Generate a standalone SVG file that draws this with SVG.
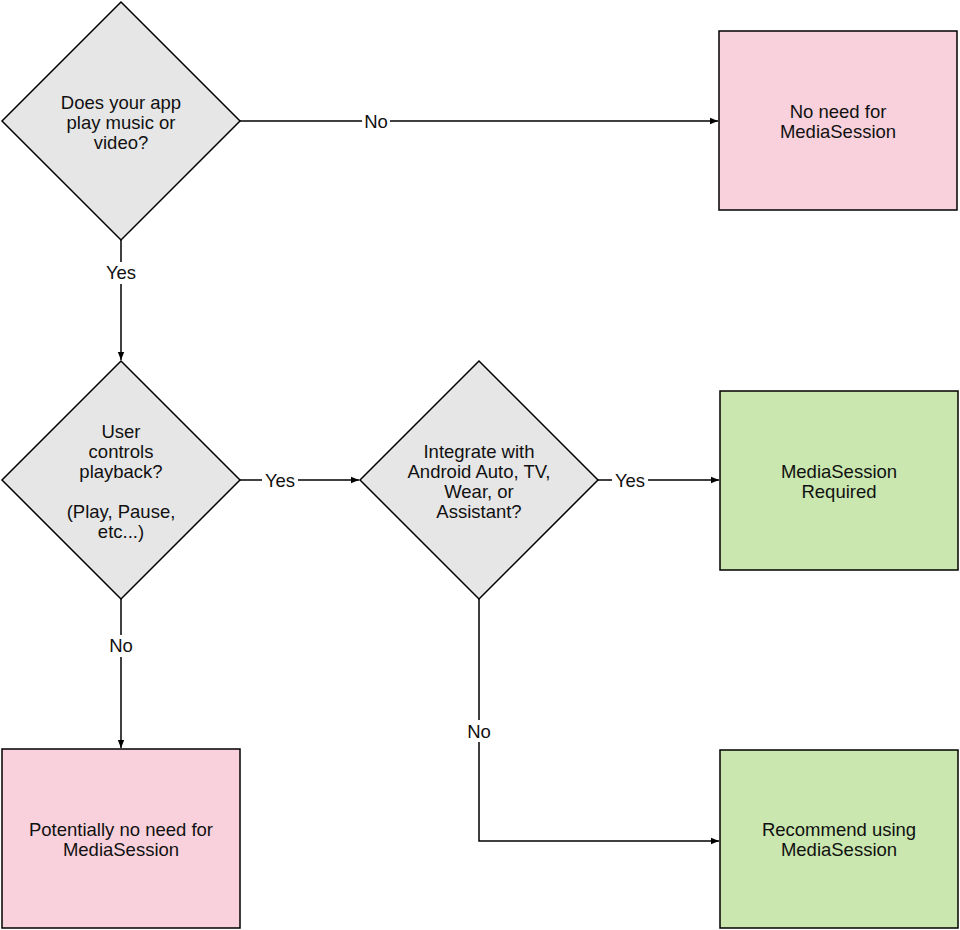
<svg xmlns="http://www.w3.org/2000/svg" width="960" height="930" viewBox="0 0 960 930">
<style>
.d{fill:#e6e6e6;stroke:#000;stroke-width:1.5}
.p{fill:#f8d1dc;stroke:#000;stroke-width:1.5}
.g{fill:#c9e7ae;stroke:#000;stroke-width:1.5}
text{font-family:"Liberation Sans",Arial,sans-serif;font-size:18.5px;fill:#111;text-anchor:middle}
.c{fill:none;stroke:#000;stroke-width:1.5}
.lb{fill:#fff;stroke:none}
</style>
<defs><marker id="a" viewBox="0 0 10 10" refX="10" refY="5" markerWidth="8" markerHeight="8" markerUnits="userSpaceOnUse" orient="auto"><path d="M0,1 L10,5 L0,9 z" fill="#000"/></marker></defs>
<rect width="960" height="930" fill="#fff"/>
<g id="connectors">
<path class="c" d="M240,121 H718" marker-end="url(#a)"/>
<path class="c" d="M121,240 V360" marker-end="url(#a)"/>
<path class="c" d="M240,480 H359" marker-end="url(#a)"/>
<path class="c" d="M598,480 H719" marker-end="url(#a)"/>
<path class="c" d="M121,599 V748" marker-end="url(#a)"/>
<path class="c" d="M479,599 V841 H719" marker-end="url(#a)"/>
<rect class="lb" x="362" y="110" width="28" height="22"/><text x="376" y="128">No</text>
<rect class="lb" x="103" y="262" width="36" height="22"/><text x="121" y="279">Yes</text>
<rect class="lb" x="262" y="470" width="36" height="22"/><text x="280" y="487">Yes</text>
<rect class="lb" x="612" y="470" width="36" height="22"/><text x="630" y="487">Yes</text>
<rect class="lb" x="107" y="635" width="28" height="22"/><text x="121" y="652">No</text>
<rect class="lb" x="464" y="720" width="30" height="22"/><text x="479" y="738">No</text>
</g>
<g id="q1"><path class="d" d="M121,2 L240,121 L121,240 L2,121 z"/><text x="121" y="109">Does your app</text><text x="121" y="129">play music or</text><text x="121" y="149">video?</text></g>
<g id="q2"><path class="d" d="M121,361 L240,480 L121,599 L2,480 z"/><text x="121" y="438">User</text><text x="121" y="458">controls</text><text x="121" y="478">playback?</text><text x="121" y="518">(Play, Pause,</text><text x="121" y="538">etc...)</text></g>
<g id="q3"><path class="d" d="M479,361 L598,480 L479,599 L360,480 z"/><text x="479" y="458">Integrate with</text><text x="479" y="478">Android Auto, TV,</text><text x="479" y="498">Wear, or</text><text x="479" y="518">Assistant?</text></g>
<g id="noNeed"><rect class="p" x="719" y="31" width="238" height="179"/><text x="838" y="118">No need for</text><text x="838" y="138">MediaSession</text></g>
<g id="required"><rect class="g" x="720" y="391" width="238" height="179"/><text x="839" y="478">MediaSession</text><text x="839" y="498">Required</text></g>
<g id="potentially"><rect class="p" x="2" y="749" width="238" height="179"/><text x="121" y="836">Potentially no need for</text><text x="121" y="856">MediaSession</text></g>
<g id="recommend"><rect class="g" x="720" y="750" width="238" height="178"/><text x="839" y="836">Recommend using</text><text x="839" y="856">MediaSession</text></g>
</svg>
